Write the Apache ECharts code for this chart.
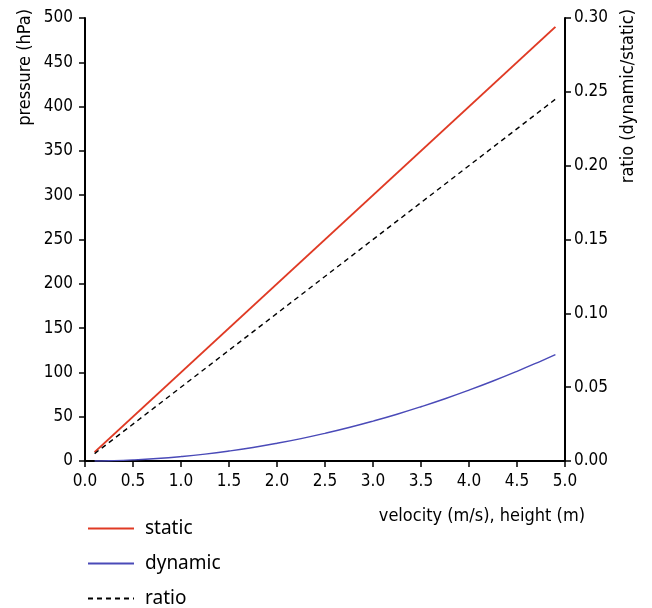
<!DOCTYPE html>
<html><head><meta charset="utf-8">
<script src="https://cdn.jsdelivr.net/npm/echarts@6/dist/echarts.min.js"></script>
<style>html,body{margin:0;padding:0;background:#fff}#c{width:652px;height:608px}</style>
</head><body><div id="c"></div>
<script>
const FONT = '"DejaVu Sans Condensed","Liberation Sans Narrow","Open Sans",sans-serif';
const LFONT = '"Noto Sans","Open Sans",sans-serif';
const xTicks = ['0.0','0.5','1.0','1.5','2.0','2.5','3.0','3.5','4.0','4.5','5.0'];
const staticX = [0.1, 4.9];
const staticY = [10, 490];
const dynamicX = [0.1, 0.25, 0.5, 0.75, 1.0, 1.25, 1.5, 1.75, 2.0, 2.25, 2.5, 2.75, 3.0, 3.25, 3.5, 3.75, 4.0, 4.25, 4.5, 4.75, 4.9];
const dynamicY = [0.05, 0.3, 1.25, 2.8, 5, 7.8, 11.25, 15.3, 20, 25.3, 31.25, 37.8, 45, 52.8, 61.25, 70.3, 80, 90.3, 101.25, 112.8, 120];
const ratioX = [0.1, 4.9];
const ratioY = [0.005, 0.245];
const seriesNames = ['static', 'dynamic', 'ratio'];

const pair = (xs, ys) => xs.map((x, i) => [x, ys[i]]);
const chart = echarts.init(document.getElementById('c'));
const axisCommon = {
  axisLine: {show: true, lineStyle: {color: '#000', width: 2}},
  axisTick: {show: true, length: 6, lineStyle: {color: '#000', width: 1.5}},
  splitLine: {show: false},
  axisLabel: {color: '#000', fontFamily: FONT, fontSize: 17, margin: 12}
};
chart.setOption({
  animation: false,
  backgroundColor: '#fff',
  grid: {left: 85, right: 87, top: 18, bottom: 147},
  xAxis: Object.assign({}, axisCommon, {
    type: 'value', min: 0, max: 5, interval: 0.5,
    axisLabel: Object.assign({}, axisCommon.axisLabel, {margin: 12, formatter: (v) => xTicks[Math.round(v / 0.5)]}),
    name: 'velocity (m/s), height (m)', nameLocation: 'end', nameGap: 20,
    nameTextStyle: {color: '#000', fontFamily: FONT, fontSize: 18, align: 'right', verticalAlign: 'top', padding: [46, 0, 0, 0]}
  }),
  yAxis: [
    Object.assign({}, axisCommon, {type: 'value', min: 0, max: 500, interval: 50, position: 'left'}),
    Object.assign({}, axisCommon, {type: 'value', min: 0, max: 0.3, interval: 0.05, position: 'right',
      axisLabel: Object.assign({}, axisCommon.axisLabel, {margin: 9, formatter: (v) => v.toFixed(2)})})
  ],
  legend: {
    orient: 'vertical', left: 82, top: 514, width: 300, height: 300, itemWidth: 46, itemHeight: 14, itemGap: 16,
    itemStyle: {opacity: 0},
    textStyle: {color: '#000', fontFamily: LFONT, fontSize: 19, padding: [0, 0, 0, 6]},
    data: seriesNames
  },
  graphic: [
    {type: 'text', x: 25, y: 9, rotation: Math.PI / 2,
     style: {text: 'pressure (hPa)', fill: '#000', font: '18px ' + FONT, align: 'right', verticalAlign: 'middle'}},
    {type: 'text', x: 628, y: 9, rotation: Math.PI / 2,
     style: {text: 'ratio (dynamic/static)', fill: '#000', font: '18px ' + FONT, align: 'right', verticalAlign: 'middle'}}
  ],
  series: [
    {name: seriesNames[0], type: 'line', yAxisIndex: 0, symbol: 'none', data: pair(staticX, staticY),
     lineStyle: {color: '#e03a24', width: 2}, itemStyle: {color: '#e03a24'}},
    {name: seriesNames[1], type: 'line', yAxisIndex: 0, symbol: 'none', smooth: true, data: pair(dynamicX, dynamicY),
     lineStyle: {color: '#4a4ab8', width: 1.4}, itemStyle: {color: '#4a4ab8'}},
    {name: seriesNames[2], type: 'line', yAxisIndex: 1, symbol: 'none', data: pair(ratioX, ratioY),
     lineStyle: {color: '#000', width: 1.4, type: [5, 4]}, itemStyle: {color: '#000'}}
  ]
});
</script></body></html>
